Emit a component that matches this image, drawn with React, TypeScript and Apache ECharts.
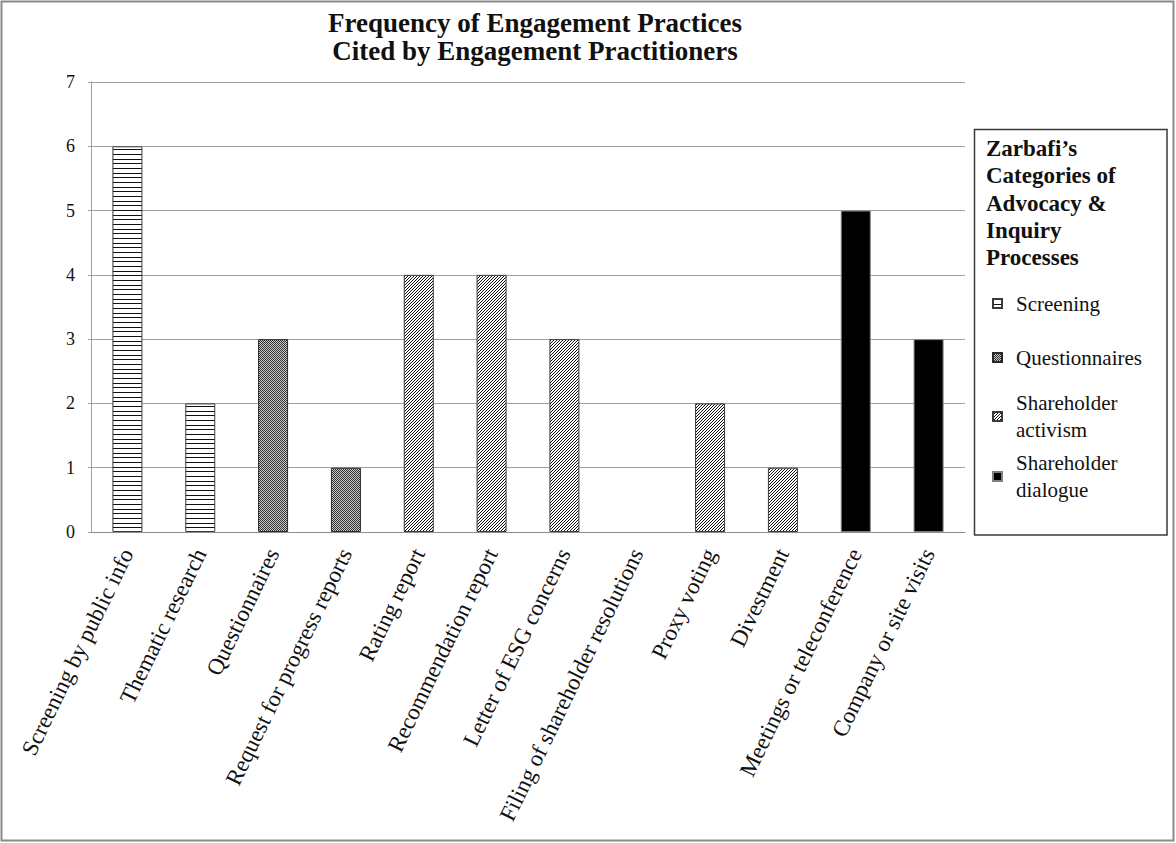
import React, { useEffect, useRef } from "react";
import * as echarts from "echarts";

// Engagement practices and how many practitioners cited each one
const categories = [
  "Screening by public info",
  "Thematic research",
  "Questionnaires",
  "Request for progress reports",
  "Rating report",
  "Recommendation report",
  "Letter of ESG concerns",
  "Filing of shareholder resolutions",
  "Proxy voting",
  "Divestment",
  "Meetings or teleconference",
  "Company or site visits",
];
const counts = [6, 2, 3, 1, 4, 4, 3, 0, 2, 1, 5, 3];

// Zarbafi's process category for each practice
const processGroups = [
  "Screening",
  "Questionnaires",
  "Shareholder activism",
  "Shareholder dialogue",
];
const practiceGroup = [
  "Screening",
  "Screening",
  "Questionnaires",
  "Questionnaires",
  "Shareholder activism",
  "Shareholder activism",
  "Shareholder activism",
  "Shareholder activism",
  "Shareholder activism",
  "Shareholder activism",
  "Shareholder dialogue",
  "Shareholder dialogue",
];
const yTicks = [0, 1, 2, 3, 4, 5, 6, 7];

const FONT = '"Liberation Serif", "Times New Roman", serif';

type Painter = (ctx: CanvasRenderingContext2D) => void;

function tile(w: number, h: number, paint: Painter) {
  const c = document.createElement("canvas");
  c.width = w;
  c.height = h;
  const ctx = c.getContext("2d") as CanvasRenderingContext2D;
  ctx.fillStyle = "#ffffff";
  ctx.fillRect(0, 0, w, h);
  paint(ctx);
  return {
    image: c.toDataURL(),
    repeat: "repeat",
    imageWidth: w,
    imageHeight: h,
  };
}

function groupFills() {
  const horizontal = tile(4, 14, (ctx) => {
    ctx.fillStyle = "#111111";
    ctx.fillRect(0, 0, 4, 1);
    ctx.fillRect(0, 5, 4, 1);
    ctx.fillRect(0, 9, 4, 1);
  });
  const checker = tile(2, 2, (ctx) => {
    ctx.fillStyle = "#c8c8c8";
    ctx.fillRect(0, 0, 2, 2);
    ctx.fillStyle = "#333333";
    ctx.fillRect(0, 0, 1, 1);
    ctx.fillRect(1, 1, 1, 1);
  });
  const diagonal = tile(3, 3, (ctx) => {
    ctx.fillStyle = "#111111";
    ctx.fillRect(2, 0, 1, 1);
    ctx.fillRect(1, 1, 1, 1);
    ctx.fillRect(0, 2, 1, 1);
  });
  return {
    Screening: { color: horizontal, borderColor: "#3a3a3a" },
    Questionnaires: { color: checker, borderColor: "#2a2a2a" },
    "Shareholder activism": { color: diagonal, borderColor: "#3a3a3a" },
    "Shareholder dialogue": { color: "#000000", borderColor: "#7f7f7f" },
  } as Record<string, { color: any; borderColor: string }>;
}

// vertical placement (top, in px) of each legend entry
const legendTops = [290, 344, 389.5, 449.5];

export default function App() {
  const ref = useRef<HTMLDivElement>(null);

  useEffect(() => {
    document.body.style.margin = "0";
    if (!ref.current) return;
    const chart = echarts.init(ref.current, null, { renderer: "svg" });
    const fills = groupFills();

    // one stacked series per process group; a count of zero draws no bar
    const series = processGroups.map((g) => ({
      name: g,
      type: "bar",
      stack: "practices",
      barWidth: 30,
      data: counts.map((v, i) => (practiceGroup[i] === g && v > 0 ? v : "-")),
      itemStyle: {
        color: fills[g].color,
        borderColor: fills[g].borderColor,
        borderWidth: 1,
      },
      emphasis: { disabled: true },
    }));

    const legends = processGroups.map((g, i) => ({
      data: [g],
      orient: "vertical",
      left: 992,
      top: legendTops[i],
      padding: 0,
      icon: "rect",
      itemWidth: 9,
      itemHeight: 9,
      selectedMode: false,
      formatter: (name: string) =>
        name.startsWith("Shareholder") ? name.replace(" ", "\n") : name,
      textStyle: {
        fontFamily: FONT,
        fontSize: 21,
        lineHeight: 27,
        color: "#111",
        padding: [0, 0, 0, 9],
      },
    }));

    chart.setOption({
      animation: false,
      backgroundColor: "#ffffff",
      grid: {
        left: 91,
        right: 211,
        top: 82,
        bottom: 311,
        containLabel: false,
        outerBoundsMode: "none",
      },
      xAxis: {
        type: "category",
        data: categories,
        axisLine: { show: true, lineStyle: { color: "#8c8c8c", width: 1 } },
        axisTick: { show: false },
        axisLabel: {
          interval: 0,
          rotate: 64,
          margin: 18,
          fontFamily: FONT,
          fontSize: 23,
          color: "#111",
        },
      },
      yAxis: {
        type: "value",
        min: yTicks[0],
        max: yTicks[yTicks.length - 1],
        interval: 1,
        axisLine: { show: true, lineStyle: { color: "#a0a0a0", width: 1 } },
        axisTick: {
          show: true,
          length: 3,
          lineStyle: { color: "#a0a0a0" },
        },
        splitLine: { lineStyle: { color: "#a0a0a0", width: 1 } },
        axisLabel: {
          margin: 16,
          fontFamily: FONT,
          fontSize: 18,
          color: "#111",
        },
      },
      legend: legends,
      series,
      graphic: [
        {
          type: "rect",
          silent: true,
          shape: { x: 1.5, y: 1.5, width: 1172, height: 839 },
          style: { fill: "none", stroke: "#8a8a8a", lineWidth: 2 },
        },
        {
          type: "rect",
          silent: true,
          shape: { x: 974.5, y: 129.5, width: 192.5, height: 405.5 },
          style: { fill: "none", stroke: "#3a3a3a", lineWidth: 1.5 },
        },
        {
          type: "text",
          silent: true,
          x: 535,
          y: 9,
          style: {
            text:
              "Frequency of Engagement Practices\nCited by Engagement Practitioners",
            fontFamily: FONT,
            fontSize: 27,
            fontWeight: "bold",
            lineHeight: 28,
            align: "center",
            verticalAlign: "top",
            fill: "#111",
          },
        },
        {
          type: "text",
          silent: true,
          x: 986,
          y: 135,
          style: {
            text: "Zarbafi’s\nCategories of\nAdvocacy &\nInquiry\nProcesses",
            fontFamily: FONT,
            fontSize: 23,
            fontWeight: "bold",
            lineHeight: 27.25,
            align: "left",
            verticalAlign: "top",
            fill: "#111",
          },
        },
      ],
    });

    return () => chart.dispose();
  }, []);

  return <div ref={ref} style={{ width: 1176, height: 843 }} />;
}
